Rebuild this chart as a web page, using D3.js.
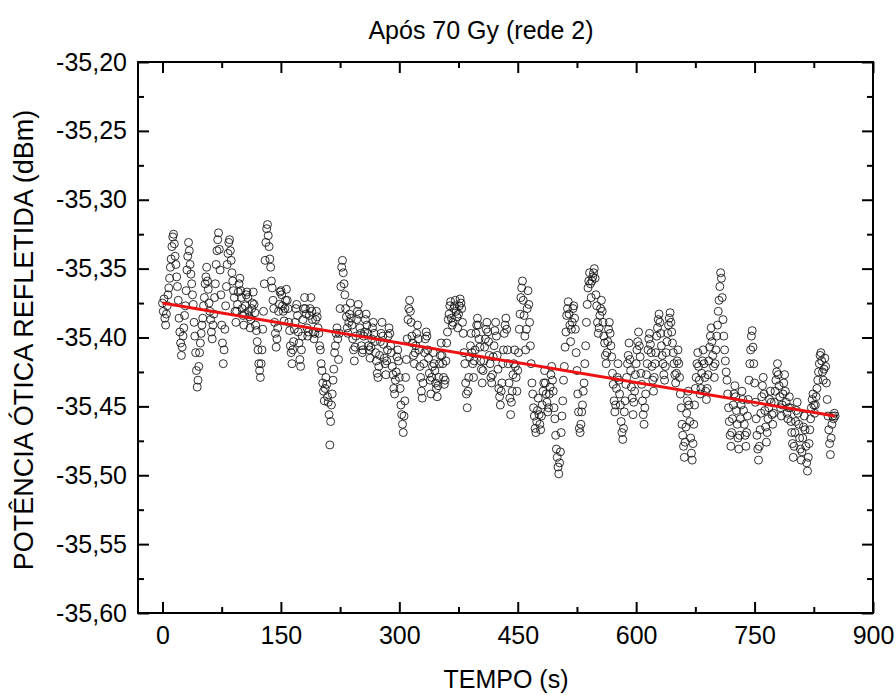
<!DOCTYPE html>
<html><head><meta charset="utf-8">
<script src="https://cdn.jsdelivr.net/npm/d3@7"></script>
<style>
body{margin:0;background:#fff}
svg{display:block}
text{font-family:"Liberation Sans",Arial,sans-serif;fill:#000}
</style>
</head><body>
<svg id="chart" width="896" height="695"></svg>
<script>
const title = "Após 70 Gy (rede 2)";
const xLabel = "TEMPO (s)";
const yLabel = "POTÊNCIA ÓTICA REFLETIDA (dBm)";
const xTicks = [0, 150, 300, 450, 600, 750, 900];
const xMinorTicks = [75, 225, 375, 525, 675, 825];
const yTicks = [-35.60, -35.55, -35.50, -35.45, -35.40, -35.35, -35.30, -35.25, -35.20];
const yMinorTicks = [-35.575, -35.525, -35.475, -35.425, -35.375, -35.325, -35.275, -35.225];
const samplePeriodS = 1;
// reflected optical power (dBm), one sample per second from t = 0 s
const power = [
-35.375,-35.381,-35.372,-35.386,-35.391,-35.383,-35.377,-35.369,-35.364,-35.357,
-35.349,-35.343,-35.334,-35.327,-35.325,-35.332,-35.341,-35.347,-35.356,-35.363,
-35.373,-35.386,-35.396,-35.404,-35.413,-35.407,-35.399,-35.393,-35.384,-35.377,
-35.366,-35.351,-35.341,-35.331,-35.337,-35.347,-35.354,-35.361,-35.369,-35.376,
-35.389,-35.399,-35.411,-35.424,-35.436,-35.431,-35.421,-35.411,-35.404,-35.397,
-35.391,-35.386,-35.377,-35.371,-35.361,-35.356,-35.349,-35.359,-35.365,-35.375,
-35.381,-35.387,-35.396,-35.401,-35.391,-35.383,-35.371,-35.361,-35.347,-35.337,
-35.329,-35.324,-35.336,-35.351,-35.369,-35.391,-35.404,-35.419,-35.409,-35.394,
-35.377,-35.363,-35.347,-35.339,-35.331,-35.329,-35.337,-35.344,-35.353,-35.359,
-35.366,-35.371,-35.381,-35.389,-35.381,-35.376,-35.367,-35.361,-35.357,-35.366,
-35.371,-35.379,-35.384,-35.391,-35.383,-35.377,-35.369,-35.367,-35.371,-35.381,
-35.385,-35.393,-35.387,-35.379,-35.375,-35.367,-35.376,-35.382,-35.391,-35.395,
-35.403,-35.409,-35.419,-35.424,-35.429,-35.419,-35.409,-35.394,-35.381,-35.361,
-35.344,-35.331,-35.321,-35.318,-35.326,-35.334,-35.343,-35.349,-35.359,-35.364,
-35.373,-35.379,-35.389,-35.397,-35.407,-35.401,-35.393,-35.381,-35.376,-35.367,
-35.366,-35.369,-35.377,-35.381,-35.388,-35.379,-35.373,-35.365,-35.373,-35.379,
-35.389,-35.395,-35.406,-35.411,-35.419,-35.409,-35.403,-35.394,-35.389,-35.379,
-35.376,-35.384,-35.396,-35.404,-35.416,-35.421,-35.409,-35.399,-35.387,-35.379,
-35.371,-35.379,-35.383,-35.393,-35.399,-35.396,-35.384,-35.379,-35.371,-35.381,
-35.387,-35.396,-35.401,-35.397,-35.387,-35.381,-35.385,-35.393,-35.397,-35.406,
-35.409,-35.419,-35.424,-35.433,-35.439,-35.446,-35.437,-35.429,-35.434,-35.443,
-35.447,-35.456,-35.478,-35.461,-35.449,-35.441,-35.431,-35.423,-35.411,-35.406,
-35.397,-35.393,-35.401,-35.416,-35.397,-35.379,-35.363,-35.349,-35.344,-35.353,
-35.361,-35.369,-35.379,-35.385,-35.393,-35.397,-35.389,-35.383,-35.375,-35.386,
-35.391,-35.401,-35.409,-35.417,-35.407,-35.399,-35.387,-35.381,-35.376,-35.383,
-35.393,-35.397,-35.406,-35.411,-35.409,-35.399,-35.396,-35.387,-35.383,-35.391,
-35.397,-35.406,-35.409,-35.415,-35.407,-35.401,-35.393,-35.389,-35.397,-35.403,
-35.411,-35.417,-35.426,-35.429,-35.421,-35.413,-35.403,-35.397,-35.389,-35.399,
-35.405,-35.415,-35.419,-35.427,-35.417,-35.409,-35.399,-35.393,-35.397,-35.406,
-35.411,-35.421,-35.427,-35.437,-35.441,-35.431,-35.425,-35.414,-35.409,-35.417,
-35.429,-35.437,-35.449,-35.456,-35.463,-35.469,-35.457,-35.446,-35.429,-35.416,
-35.401,-35.387,-35.379,-35.373,-35.381,-35.389,-35.399,-35.404,-35.413,-35.419,
-35.411,-35.406,-35.397,-35.391,-35.401,-35.409,-35.421,-35.429,-35.439,-35.444,
-35.433,-35.419,-35.411,-35.401,-35.396,-35.399,-35.409,-35.415,-35.426,-35.431,
-35.441,-35.429,-35.421,-35.411,-35.419,-35.424,-35.433,-35.437,-35.443,-35.435,
-35.429,-35.419,-35.413,-35.404,-35.413,-35.419,-35.429,-35.434,-35.431,-35.417,
-35.404,-35.396,-35.387,-35.383,-35.377,-35.374,-35.386,-35.391,-35.389,-35.379,
-35.377,-35.373,-35.381,-35.385,-35.393,-35.383,-35.377,-35.372,-35.375,-35.379,
-35.389,-35.397,-35.411,-35.419,-35.433,-35.441,-35.451,-35.439,-35.429,-35.414,
-35.406,-35.397,-35.411,-35.419,-35.429,-35.417,-35.409,-35.397,-35.391,-35.386,
-35.391,-35.401,-35.407,-35.417,-35.423,-35.433,-35.424,-35.417,-35.407,-35.401,
-35.394,-35.389,-35.396,-35.403,-35.413,-35.419,-35.429,-35.433,-35.427,-35.414,
-35.406,-35.395,-35.389,-35.399,-35.413,-35.423,-35.437,-35.443,-35.449,-35.439,
-35.433,-35.419,-35.409,-35.397,-35.391,-35.386,-35.394,-35.409,-35.419,-35.433,
-35.444,-35.456,-35.447,-35.439,-35.427,-35.419,-35.409,-35.421,-35.429,-35.439,
-35.424,-35.411,-35.394,-35.383,-35.371,-35.364,-35.359,-35.373,-35.384,-35.399,
-35.409,-35.394,-35.379,-35.366,-35.376,-35.389,-35.406,-35.419,-35.433,-35.441,
-35.451,-35.457,-35.466,-35.469,-35.461,-35.453,-35.444,-35.456,-35.463,-35.467,
-35.457,-35.449,-35.439,-35.433,-35.424,-35.433,-35.441,-35.447,-35.454,-35.451,
-35.441,-35.436,-35.427,-35.421,-35.431,-35.439,-35.451,-35.459,-35.471,-35.481,
-35.487,-35.494,-35.499,-35.491,-35.483,-35.469,-35.457,-35.446,-35.431,-35.421,
-35.407,-35.396,-35.384,-35.379,-35.374,-35.383,-35.391,-35.403,-35.394,-35.389,
-35.379,-35.377,-35.386,-35.394,-35.411,-35.424,-35.441,-35.454,-35.466,-35.469,
-35.463,-35.454,-35.449,-35.439,-35.433,-35.419,-35.406,-35.389,-35.376,-35.364,
-35.359,-35.353,-35.361,-35.371,-35.359,-35.356,-35.353,-35.350,-35.357,-35.369,
-35.377,-35.389,-35.397,-35.393,-35.384,-35.379,-35.373,-35.381,-35.389,-35.399,
-35.404,-35.413,-35.419,-35.411,-35.403,-35.394,-35.389,-35.397,-35.406,-35.414,
-35.426,-35.434,-35.446,-35.454,-35.449,-35.437,-35.429,-35.419,-35.431,-35.441,
-35.449,-35.461,-35.469,-35.474,-35.466,-35.454,-35.446,-35.434,-35.429,-35.419,
-35.413,-35.404,-35.416,-35.424,-35.436,-35.444,-35.456,-35.447,-35.439,-35.427,
-35.419,-35.409,-35.403,-35.396,-35.406,-35.414,-35.426,-35.434,-35.446,-35.456,
-35.463,-35.451,-35.441,-35.427,-35.419,-35.409,-35.401,-35.397,-35.405,-35.411,
-35.421,-35.431,-35.439,-35.429,-35.419,-35.411,-35.399,-35.393,-35.387,-35.383,
-35.389,-35.397,-35.406,-35.413,-35.419,-35.427,-35.431,-35.421,-35.411,-35.403,
-35.397,-35.391,-35.386,-35.382,-35.389,-35.396,-35.404,-35.411,-35.419,-35.427,
-35.433,-35.426,-35.417,-35.409,-35.419,-35.429,-35.441,-35.451,-35.463,-35.471,
-35.479,-35.487,-35.476,-35.465,-35.455,-35.446,-35.439,-35.449,-35.461,-35.473,
-35.484,-35.489,-35.477,-35.463,-35.449,-35.437,-35.429,-35.419,-35.411,-35.421,
-35.431,-35.441,-35.437,-35.426,-35.417,-35.409,-35.419,-35.429,-35.439,-35.445,
-35.437,-35.427,-35.417,-35.407,-35.399,-35.393,-35.403,-35.413,-35.421,-35.429,
-35.419,-35.409,-35.399,-35.391,-35.381,-35.373,-35.363,-35.353,-35.357,-35.371,
-35.387,-35.399,-35.409,-35.417,-35.425,-35.431,-35.441,-35.451,-35.461,-35.471,
-35.479,-35.469,-35.459,-35.449,-35.441,-35.435,-35.443,-35.453,-35.463,-35.473,
-35.481,-35.471,-35.459,-35.449,-35.439,-35.445,-35.453,-35.463,-35.471,-35.479,
-35.469,-35.457,-35.445,-35.431,-35.419,-35.409,-35.399,-35.395,-35.407,-35.419,
-35.433,-35.447,-35.459,-35.471,-35.481,-35.489,-35.479,-35.467,-35.455,-35.443,
-35.435,-35.429,-35.441,-35.453,-35.465,-35.476,-35.469,-35.459,-35.451,-35.445,
-35.439,-35.447,-35.456,-35.463,-35.455,-35.447,-35.439,-35.431,-35.425,-35.419,
-35.427,-35.435,-35.443,-35.451,-35.457,-35.449,-35.441,-35.433,-35.427,-35.439,
-35.447,-35.455,-35.459,-35.451,-35.443,-35.451,-35.461,-35.469,-35.477,-35.487,
-35.479,-35.469,-35.461,-35.453,-35.447,-35.455,-35.463,-35.473,-35.481,-35.489,
-35.483,-35.473,-35.465,-35.457,-35.467,-35.479,-35.491,-35.497,-35.487,-35.477,
-35.467,-35.459,-35.451,-35.445,-35.441,-35.449,-35.455,-35.449,-35.443,-35.437,
-35.431,-35.425,-35.419,-35.413,-35.411,-35.417,-35.425,-35.431,-35.423,-35.415,
-35.421,-35.433,-35.445,-35.457,-35.467,-35.477,-35.485,-35.473,-35.463,-35.457,
-35.459,-35.455,-35.457
];
// linear fit drawn in red (end points)
const fitTime = [0, 852];
const fitPower = [-35.375, -35.457];

const svg = d3.select("#chart");
const L = 138, R = 873, T = 62, B = 613;
const x = d3.scaleLinear().domain([-31, 900]).range([L, R]);
const y = d3.scaleLinear().domain([-35.60, -35.20]).range([B, T]);
const fmtY = d => d3.format(".2f")(d).replace("\u2212", "-").replace(".", ",");

const pts = power.map((v, i) => ({t: i * samplePeriodS, v}));

// points
svg.append("g").selectAll("circle").data(pts).join("circle")
  .attr("cx", d => x(d.t)).attr("cy", d => y(d.v)).attr("r", 4)
  .attr("fill", "none").attr("stroke", "#1a1a1a").attr("stroke-width", 0.9);

// fit line
svg.append("line")
  .attr("x1", x(fitTime[0])).attr("y1", y(fitPower[0]))
  .attr("x2", x(fitTime[1])).attr("y2", y(fitPower[1]))
  .attr("stroke", "#ee1111").attr("stroke-width", 3);

function styleAxis(g){
  g.select(".domain").remove();
  g.selectAll(".tick line").attr("stroke", "#000").attr("stroke-width", 2);
  g.selectAll("text").style("font-size", "25px").attr("fill", "#000");
}
const noLab = () => "";
// bottom
svg.append("g").attr("transform", `translate(0,${B})`)
  .call(d3.axisBottom(x).tickValues(xTicks).tickSize(-11).tickPadding(13).tickFormat(d3.format("d"))).call(styleAxis);
svg.append("g").attr("transform", `translate(0,${B})`)
  .call(d3.axisBottom(x).tickValues(xMinorTicks).tickSize(-6).tickFormat(noLab)).call(styleAxis);
// top
svg.append("g").attr("transform", `translate(0,${T})`)
  .call(d3.axisTop(x).tickValues(xTicks).tickSize(-11).tickFormat(noLab)).call(styleAxis);
svg.append("g").attr("transform", `translate(0,${T})`)
  .call(d3.axisTop(x).tickValues(xMinorTicks).tickSize(-6).tickFormat(noLab)).call(styleAxis);
// left
svg.append("g").attr("transform", `translate(${L},0)`)
  .call(d3.axisLeft(y).tickValues(yTicks).tickSize(-11).tickPadding(11).tickFormat(fmtY)).call(styleAxis);
svg.append("g").attr("transform", `translate(${L},0)`)
  .call(d3.axisLeft(y).tickValues(yMinorTicks).tickSize(-6).tickFormat(noLab)).call(styleAxis);
// right
svg.append("g").attr("transform", `translate(${R},0)`)
  .call(d3.axisRight(y).tickValues(yTicks).tickSize(-11).tickFormat(noLab)).call(styleAxis);
svg.append("g").attr("transform", `translate(${R},0)`)
  .call(d3.axisRight(y).tickValues(yMinorTicks).tickSize(-6).tickFormat(noLab)).call(styleAxis);

// frame
svg.append("rect").attr("x", L).attr("y", T).attr("width", R - L).attr("height", B - T)
  .attr("fill", "none").attr("stroke", "#000").attr("stroke-width", 2);

// titles
svg.append("text").attr("x", 481).attr("y", 39).attr("text-anchor", "middle")
  .style("font-size", "25px").text(title);
svg.append("text").attr("x", 506).attr("y", 688).attr("text-anchor", "middle")
  .style("font-size", "25px").text(xLabel);
svg.append("text").attr("transform", "translate(33,340) rotate(-90)").attr("text-anchor", "middle")
  .style("font-size", "27px").text(yLabel);
</script>
</body></html>
